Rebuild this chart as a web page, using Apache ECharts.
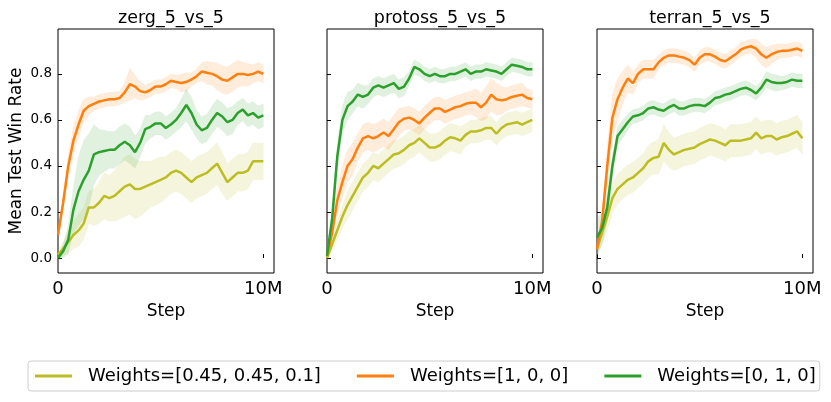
<!DOCTYPE html>
<html>
	<head>
		<meta charset="UTF-8">
		<title></title>
		<script src="https://cdn.jsdelivr.net/npm/echarts@6/dist/echarts.min.js"></script>
		<style>
			html, body { margin: 0; padding: 0; background: #fff; }
			#main { width: 831px; height: 402px; }
		</style>
	</head>
	<body>
		<div id="main"></div>
		<script>
			// 横轴：训练步数（百万）
			var steps = [0, 0.25, 0.5, 0.75, 1, 1.25, 1.5, 1.75, 2, 2.25, 2.5, 2.75, 3, 3.25, 3.5, 3.75, 4, 4.25, 4.5, 4.75, 5,
				5.25, 5.5, 5.75, 6, 6.25, 6.5, 6.75, 7, 7.25, 7.5, 7.75, 8, 8.25, 8.5, 8.75, 9, 9.25, 9.5, 9.75, 10];

			var maps = ['zerg_5_vs_5', 'protoss_5_vs_5', 'terran_5_vs_5'];
			var names = ['Weights=[0.45, 0.45, 0.1]', 'Weights=[1, 0, 0]', 'Weights=[0, 1, 0]'];
			var colors = ['#bcbd22', '#ff7f0e', '#2ca02c'];
			var yTicks = [0, 0.2, 0.4, 0.6, 0.8];
			var xTicks = [0, 10];

			// zerg
			var zergMix = [0.015, 0.04, 0.07, 0.10, 0.12, 0.15, 0.22, 0.22, 0.24, 0.27, 0.26, 0.27, 0.29, 0.31, 0.32, 0.30, 0.30, 0.31, 0.32, 0.33, 0.34,
				0.35, 0.37, 0.38, 0.37, 0.35, 0.33, 0.35, 0.36, 0.37, 0.39, 0.41, 0.37, 0.33, 0.35, 0.37, 0.37, 0.38, 0.42, 0.42, 0.42];
			var zergMixSd = [0.02, 0.03, 0.05, 0.06, 0.07, 0.07, 0.07, 0.08, 0.09, 0.10, 0.10, 0.11, 0.12, 0.13, 0.13, 0.13, 0.12, 0.11, 0.10, 0.10, 0.10,
				0.09, 0.09, 0.09, 0.09, 0.09, 0.09, 0.09, 0.09, 0.09, 0.09, 0.09, 0.09, 0.08, 0.08, 0.08, 0.08, 0.08, 0.08, 0.08, 0.08];
			var zergW1 = [0.10, 0.24, 0.40, 0.51, 0.58, 0.64, 0.66, 0.67, 0.68, 0.685, 0.69, 0.69, 0.695, 0.72, 0.755, 0.745, 0.725, 0.72, 0.73, 0.745, 0.745,
				0.755, 0.77, 0.765, 0.76, 0.765, 0.775, 0.79, 0.81, 0.805, 0.80, 0.79, 0.775, 0.77, 0.785, 0.80, 0.80, 0.795, 0.80, 0.81, 0.80];
			var zergW1Sd = [0.02, 0.03, 0.05, 0.06, 0.06, 0.05, 0.04, 0.03, 0.03, 0.03, 0.03, 0.03, 0.03, 0.04, 0.07, 0.05, 0.04, 0.03, 0.03, 0.03, 0.03,
				0.03, 0.03, 0.03, 0.04, 0.04, 0.03, 0.03, 0.04, 0.05, 0.05, 0.06, 0.06, 0.06, 0.06, 0.06, 0.05, 0.05, 0.04, 0.04, 0.04];
			var zergW2 = [0.0, 0.03, 0.08, 0.21, 0.29, 0.34, 0.38, 0.45, 0.46, 0.465, 0.47, 0.47, 0.49, 0.505, 0.49, 0.46, 0.50, 0.56, 0.57, 0.585, 0.585,
				0.565, 0.58, 0.60, 0.63, 0.665, 0.63, 0.58, 0.555, 0.565, 0.60, 0.63, 0.615, 0.59, 0.60, 0.63, 0.645, 0.62, 0.63, 0.61, 0.62];
			var zergW2Sd = [0.01, 0.03, 0.06, 0.10, 0.15, 0.17, 0.16, 0.13, 0.10, 0.09, 0.08, 0.08, 0.08, 0.08, 0.08, 0.07, 0.06, 0.06, 0.05, 0.05, 0.05,
				0.05, 0.05, 0.05, 0.06, 0.07, 0.07, 0.06, 0.06, 0.06, 0.06, 0.06, 0.06, 0.06, 0.06, 0.05, 0.05, 0.05, 0.05, 0.05, 0.05];

			// protoss
			var protossMix = [0.0, 0.06, 0.12, 0.18, 0.23, 0.27, 0.31, 0.35, 0.37, 0.40, 0.39, 0.41, 0.43, 0.45, 0.455, 0.47, 0.49, 0.50, 0.52, 0.50, 0.48,
				0.48, 0.49, 0.51, 0.525, 0.52, 0.51, 0.535, 0.55, 0.55, 0.555, 0.565, 0.565, 0.54, 0.565, 0.58, 0.585, 0.59, 0.58, 0.59, 0.60];
			var protossMixSd = [0.01, 0.03, 0.04, 0.05, 0.06, 0.06, 0.06, 0.06, 0.06, 0.06, 0.06, 0.06, 0.06, 0.06, 0.06, 0.06, 0.06, 0.06, 0.06, 0.06, 0.06,
				0.06, 0.06, 0.06, 0.06, 0.06, 0.06, 0.05, 0.05, 0.05, 0.05, 0.05, 0.05, 0.05, 0.05, 0.05, 0.05, 0.05, 0.05, 0.05, 0.05];
			var protossW1 = [0.01, 0.11, 0.25, 0.33, 0.40, 0.43, 0.48, 0.52, 0.53, 0.52, 0.53, 0.545, 0.53, 0.56, 0.59, 0.605, 0.61, 0.60, 0.585, 0.61, 0.63,
				0.65, 0.65, 0.635, 0.645, 0.655, 0.66, 0.67, 0.675, 0.675, 0.655, 0.675, 0.71, 0.69, 0.685, 0.69, 0.70, 0.705, 0.71, 0.695, 0.69];
			var protossW1Sd = [0.01, 0.04, 0.06, 0.07, 0.07, 0.07, 0.06, 0.06, 0.06, 0.06, 0.06, 0.06, 0.06, 0.06, 0.06, 0.05, 0.05, 0.05, 0.05, 0.05, 0.05,
				0.05, 0.05, 0.05, 0.05, 0.05, 0.05, 0.05, 0.05, 0.06, 0.06, 0.07, 0.07, 0.07, 0.06, 0.05, 0.05, 0.05, 0.05, 0.04, 0.04];
			var protossW2 = [0.01, 0.17, 0.44, 0.60, 0.66, 0.68, 0.71, 0.70, 0.71, 0.74, 0.75, 0.74, 0.75, 0.76, 0.735, 0.745, 0.78, 0.83, 0.82, 0.80, 0.79,
				0.80, 0.79, 0.79, 0.80, 0.80, 0.81, 0.82, 0.80, 0.81, 0.81, 0.82, 0.815, 0.81, 0.80, 0.82, 0.84, 0.835, 0.83, 0.82, 0.82];
			var protossW2Sd = [0.01, 0.05, 0.06, 0.06, 0.06, 0.05, 0.05, 0.05, 0.04, 0.04, 0.04, 0.04, 0.04, 0.04, 0.04, 0.04, 0.03, 0.03, 0.03, 0.03, 0.03,
				0.03, 0.03, 0.03, 0.03, 0.03, 0.03, 0.03, 0.03, 0.03, 0.03, 0.03, 0.03, 0.03, 0.03, 0.03, 0.03, 0.03, 0.03, 0.03, 0.03];

			// terran
			var terranMix = [0.04, 0.11, 0.18, 0.26, 0.30, 0.32, 0.34, 0.35, 0.37, 0.39, 0.42, 0.435, 0.44, 0.50, 0.47, 0.45, 0.46, 0.47, 0.475, 0.48, 0.495,
				0.505, 0.515, 0.51, 0.50, 0.49, 0.51, 0.51, 0.51, 0.515, 0.52, 0.545, 0.52, 0.53, 0.53, 0.515, 0.525, 0.53, 0.54, 0.55, 0.52];
			var terranMixSd = [0.03, 0.05, 0.06, 0.065, 0.065, 0.065, 0.065, 0.065, 0.065, 0.065, 0.07, 0.07, 0.075, 0.08, 0.075, 0.07, 0.07, 0.07, 0.07, 0.07, 0.07,
				0.07, 0.07, 0.07, 0.07, 0.07, 0.07, 0.07, 0.07, 0.07, 0.07, 0.07, 0.07, 0.07, 0.07, 0.07, 0.07, 0.07, 0.07, 0.07, 0.07];
			var terranW1 = [0.04, 0.16, 0.40, 0.61, 0.69, 0.74, 0.78, 0.76, 0.80, 0.82, 0.82, 0.82, 0.85, 0.87, 0.88, 0.88, 0.875, 0.87, 0.86, 0.84, 0.87,
				0.885, 0.885, 0.875, 0.86, 0.855, 0.87, 0.885, 0.905, 0.915, 0.92, 0.91, 0.885, 0.87, 0.885, 0.895, 0.90, 0.90, 0.905, 0.91, 0.90];
			var terranW1Sd = [0.02, 0.05, 0.08, 0.10, 0.09, 0.07, 0.06, 0.05, 0.04, 0.04, 0.04, 0.04, 0.03, 0.03, 0.03, 0.03, 0.03, 0.03, 0.03, 0.03, 0.03,
				0.03, 0.03, 0.03, 0.03, 0.03, 0.03, 0.03, 0.03, 0.03, 0.03, 0.04, 0.045, 0.045, 0.04, 0.035, 0.03, 0.03, 0.03, 0.03, 0.03];
			var terranW2 = [0.09, 0.13, 0.22, 0.40, 0.53, 0.56, 0.59, 0.615, 0.62, 0.63, 0.65, 0.655, 0.645, 0.64, 0.655, 0.665, 0.65, 0.65, 0.66, 0.665, 0.665,
				0.66, 0.675, 0.695, 0.70, 0.71, 0.715, 0.725, 0.735, 0.74, 0.73, 0.715, 0.74, 0.775, 0.765, 0.76, 0.76, 0.765, 0.775, 0.77, 0.77];
			var terranW2Sd = [0.08, 0.07, 0.06, 0.05, 0.04, 0.04, 0.035, 0.03, 0.03, 0.03, 0.03, 0.03, 0.03, 0.03, 0.03, 0.03, 0.03, 0.03, 0.03, 0.03, 0.03,
				0.03, 0.03, 0.03, 0.03, 0.03, 0.03, 0.03, 0.03, 0.03, 0.03, 0.03, 0.03, 0.035, 0.035, 0.035, 0.03, 0.03, 0.03, 0.03, 0.03];

			var panels = [
				[[zergMix, zergMixSd], [zergW1, zergW1Sd], [zergW2, zergW2Sd]],
				[[protossMix, protossMixSd], [protossW1, protossW1Sd], [protossW2, protossW2Sd]],
				[[terranMix, terranMixSd], [terranW1, terranW1Sd], [terranW2, terranW2Sd]]
			];

			var gridLeft = [58, 327, 597];
			var gridW = 216;

			var myChart = echarts.init(document.getElementById('main'));

			var grids = [], xAxes = [], yAxes = [], titles = [], series = [];

			// 阴影带：一次画成一个多边形（上沿 + 反向的下沿）
			function makeBand(rows, color) {
				return function (params, api) {
					if (params.dataIndex !== 0) return null;
					var pts = [];
					for (var i = 0; i < rows.length; i++) {
						pts.push(api.coord([rows[i][0], rows[i][2]]));
					}
					for (var j = rows.length - 1; j >= 0; j--) {
						pts.push(api.coord([rows[j][0], rows[j][1]]));
					}
					return {
						type: 'polygon',
						shape: { points: pts },
						style: { fill: color, opacity: 0.15, stroke: color, lineWidth: 0.8, strokeOpacity: 0.35 }
					};
				};
			}

			for (var p = 0; p < 3; p++) {
				grids.push({
					left: gridLeft[p], top: 29, width: gridW, height: 244,
					show: true, borderColor: '#000', borderWidth: 1, backgroundColor: 'transparent'
				});
				titles.push({
					text: maps[p], left: gridLeft[p] + gridW / 2, top: 4, textAlign: 'center',
					textStyle: { fontSize: 17.5, fontWeight: 'normal', color: '#000', fontFamily: 'DejaVu Sans' }
				});
				xAxes.push({
					gridIndex: p, type: 'value', min: 0, max: 10.52,
					axisLine: { show: false },
					splitLine: { show: false },
					axisTick: { inside: true, length: 4, customValues: xTicks, lineStyle: { color: '#000' } },
					axisLabel: {
						customValues: xTicks, fontSize: 18, color: '#000', margin: 7,
						formatter: function (v) { return v === 0 ? '0' : '10M'; }
					},
					name: 'Step', nameLocation: 'middle', nameGap: 29,
					nameTextStyle: { fontSize: 17, color: '#000' }
				});
				yAxes.push({
					gridIndex: p, type: 'value', min: -0.065, max: 0.995,
					axisLine: { show: false },
					splitLine: { show: false },
					axisTick: { inside: true, length: 4, customValues: yTicks, lineStyle: { color: '#000' } },
					axisLabel: {
						show: p === 0, customValues: yTicks, fontSize: 13.5, color: '#000', margin: 6,
						formatter: function (v) { return v.toFixed(1); }
					},
					name: p === 0 ? 'Mean Test Win Rate' : '', nameLocation: 'middle', nameGap: 33,
					nameTextStyle: { fontSize: 17, color: '#000' }
				});

				for (var s = 0; s < 3; s++) {
					var mean = panels[p][s][0], sd = panels[p][s][1];
					var rows = [];
					for (var i = 0; i < steps.length; i++) {
						rows.push([steps[i], mean[i] - sd[i], mean[i] + sd[i]]);
					}
					series.push({
						type: 'custom', xAxisIndex: p, yAxisIndex: p, data: rows,
						encode: { x: 0, y: [1, 2] }, clip: true, silent: true, z: 2,
						renderItem: makeBand(rows, colors[s])
					});
				}
				// 均值曲线
				for (var s = 0; s < 3; s++) {
					var mean = panels[p][s][0];
					var pts = [];
					for (var i = 0; i < steps.length; i++) {
						pts.push([steps[i], mean[i]]);
					}
					series.push({
						name: names[s], type: 'line', xAxisIndex: p, yAxisIndex: p, data: pts,
						symbol: 'none', z: 3,
						itemStyle: { color: colors[s] },
						lineStyle: { width: 2.5, color: colors[s] }
					});
				}
			}

			var option = {
				animation: false,
				textStyle: { fontFamily: 'DejaVu Sans' },
				title: titles,
				grid: grids,
				xAxis: xAxes,
				yAxis: yAxes,
				legend: {
					data: names, left: 28, top: 361, orient: 'horizontal',
					icon: 'rect', itemWidth: 37, itemHeight: 3, itemGap: 36,
					padding: [6, 4, 6, 7],
					borderColor: '#ccc', borderWidth: 1, borderRadius: 3,
					textStyle: { fontSize: 18, color: '#000', padding: [0, 0, 0, 11] }
				},
				series: series
			};

			myChart.setOption(option);
		</script>
	</body>
</html>
